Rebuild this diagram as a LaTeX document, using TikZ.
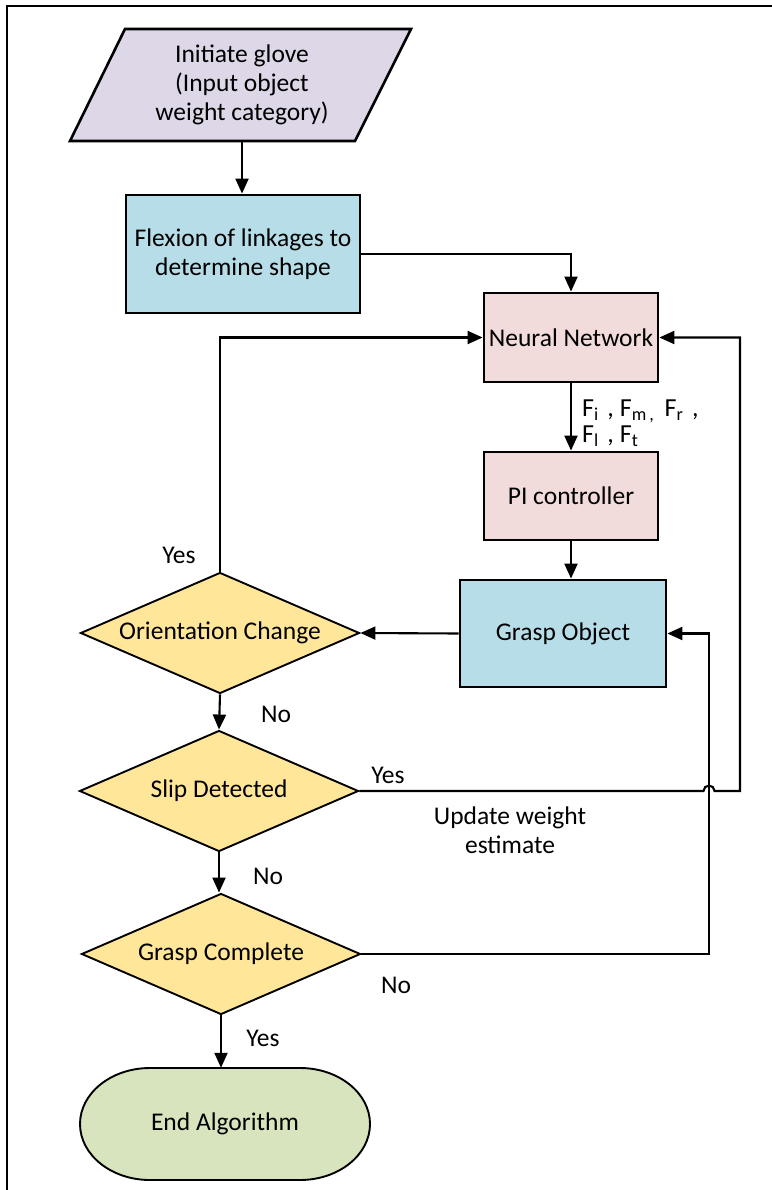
\documentclass[tikz,border=0pt]{standalone}
\usepackage{fontspec}
\setmainfont{Carlito}
\usetikzlibrary{shapes.geometric,arrows.meta}
\definecolor{lav}{HTML}{DDD7E7}
\definecolor{blu}{HTML}{B7DEE8}
\definecolor{pnk}{HTML}{F2DCDB}
\definecolor{ylw}{HTML}{FFE699}
\definecolor{grn}{HTML}{D7E4BD}
\begin{document}
\begin{tikzpicture}[x=1pt,y=-1pt,
  font=\fontsize{25.5}{29}\selectfont,
  conn/.style={line width=2.1pt,-{Triangle[length=15pt,width=13pt]}},
  boxa/.style={draw,line width=2.8pt,rectangle,align=center,inner sep=0pt},
  dia/.style={draw,line width=1.9pt,diamond,aspect=2.3,inner sep=0pt,fill=ylw,minimum width=279pt,minimum height=121pt},
  lbl/.style={inner sep=0pt}]
\useasboundingbox (0,0) rectangle (771,1190);
\draw[line width=2.8pt] (7,1200) -- (7,6) -- (790,6);
% start parallelogram
\draw[line width=2.6pt,fill=lav] (125,29) -- (411,29) -- (355,141) -- (70,141) -- cycle;
\node[lbl,align=center,minimum height=112pt] (init) at (242,85) {Initiate glove\\(Input object\\weight category)};
% boxes
\node[boxa,fill=blu,minimum width=234pt,minimum height=118pt] (flex) at (243,254) {Flexion of linkages to\\determine shape};
\node[boxa,fill=pnk,minimum width=174pt,minimum height=89pt] (nn) at (571,337.5) {Neural Network};
\node[boxa,fill=pnk,minimum width=174pt,minimum height=88pt] (pi) at (571,496) {PI controller};
\node[boxa,fill=blu,minimum width=206pt,minimum height=107pt] (grasp) at (563,633.5) {Grasp Object};
% diamonds
\node[dia] (orient) at (220,633) {Orientation Change};
\node[dia] (slip) at (219,791) {Slip Detected};
\node[dia] (gc) at (221,954) {Grasp Complete};
% end terminal
\draw[line width=1.9pt,fill=grn] (150,1068) -- (300,1068)
  arc[start angle=90,end angle=-90,x radius=70pt,y radius=56pt] -- (150,1180)
  arc[start angle=270,end angle=90,x radius=70pt,y radius=56pt] -- cycle;
\node[lbl,minimum width=290pt,minimum height=112pt] (endn) at (225,1124) {End Algorithm};
% waypoints
\coordinate (hop) at (709,791);
\coordinate (rt) at (740,791);
\coordinate (gcx) at (709,954);
% connectors
\draw[conn] (init.south) -- (init.south |- flex.north);
\draw[conn] (flex.east) -| (nn.north);
\draw[conn] (nn.south) -- (pi.north);
\draw[conn] (pi.south) -- (pi.south |- grasp.north);
\draw[conn] (grasp.west) -- (orient.east);
\draw[conn] (orient.north) |- (nn.west);
\draw[conn] (orient.south) -- (slip.north);
\draw[conn] (slip.east) -- ([xshift=-5.5pt]hop) arc[start angle=180,end angle=0,radius=5.5pt] -- (rt) |- (nn.east);
\draw[conn] (slip.south) -- (slip.south |- gc.north);
\draw[conn] (gc.east) -- (gcx) |- (grasp.east);
\draw[conn] (gc.south) -- (gc.south |- endn.north);
% labels
\node[lbl] (y1) at (179,555) {Yes};
\node[lbl] (n1) at (276,714) {No};
\node[lbl] (y2) at (388,775) {Yes};
\node[lbl,align=center] (upd) at (510,830) {Update weight\\estimate};
\node[lbl] (n2) at (268,876) {No};
\node[lbl] (n3) at (396,985) {No};
\node[lbl] (y3) at (263,1038) {Yes};
\node[lbl,align=left,anchor=west,font=\fontsize{26}{26}\selectfont] (flab) at (582,423) {F\textsubscript{i}\,\,, F\textsubscript{m\,,}\, F\textsubscript{r}\,\,,\\F\textsubscript{l}\,\,, F\textsubscript{t}};
\end{tikzpicture}
\end{document}
